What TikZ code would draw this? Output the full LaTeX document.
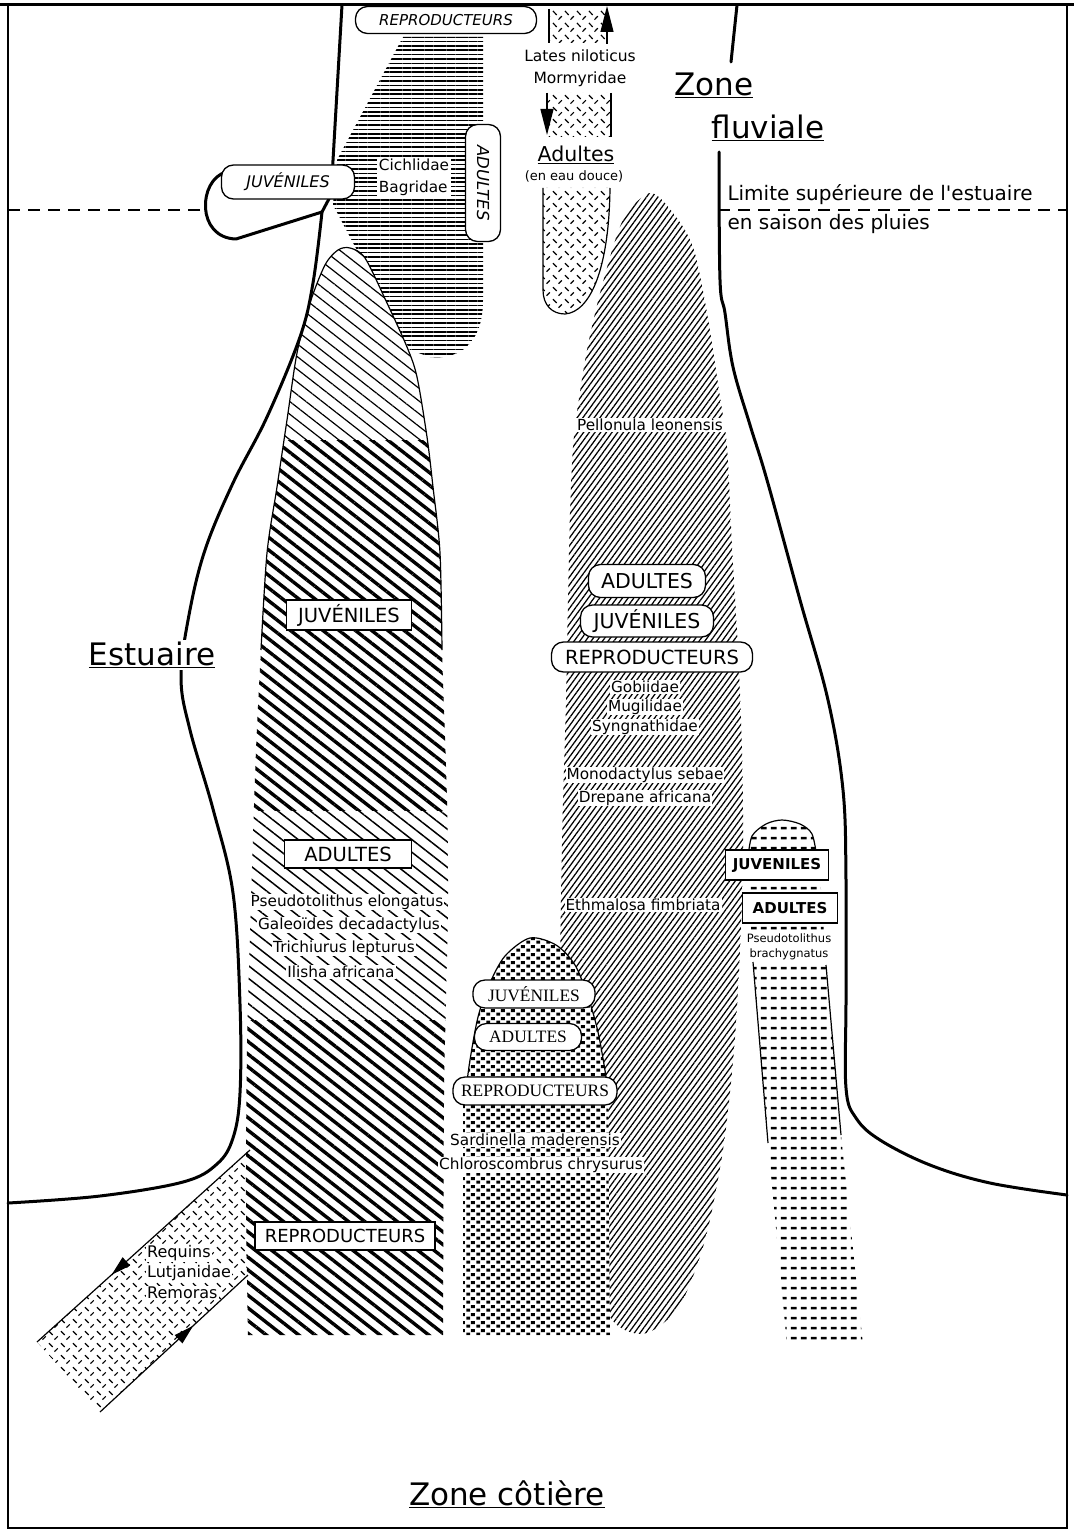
\documentclass[tikz,border=0pt]{standalone}
\usepackage{fontspec}
\setmainfont{DejaVu Sans}
\newfontfamily\timesfont{Liberation Serif}
\usetikzlibrary{patterns}
\usetikzlibrary{patterns.meta}
\usetikzlibrary{arrows.meta}
\usetikzlibrary{decorations.markings}

% fill patterns of the reference
\pgfdeclarepatternformonly{crossdash}{\pgfqpoint{0pt}{0pt}}{\pgfqpoint{12pt}{12pt}}{\pgfqpoint{12pt}{12pt}}{%
  \pgfsetlinewidth{1.3pt}%
  \pgfpathmoveto{\pgfqpoint{1pt}{10.5pt}}\pgfpathlineto{\pgfqpoint{5pt}{6.5pt}}%
  \pgfpathmoveto{\pgfqpoint{7pt}{1.5pt}}\pgfpathlineto{\pgfqpoint{10.5pt}{5pt}}%
  \pgfusepath{stroke}}
\pgfdeclarepatternformonly{brickdots}{\pgfqpoint{0pt}{0pt}}{\pgfqpoint{9.5pt}{7.6pt}}{\pgfqpoint{9.5pt}{7.6pt}}{%
  \pgfpathrectangle{\pgfqpoint{0.4pt}{0.4pt}}{\pgfqpoint{4pt}{3.1pt}}%
  \pgfpathrectangle{\pgfqpoint{5.2pt}{4.2pt}}{\pgfqpoint{4pt}{3.1pt}}%
  \pgfusepath{fill}}
\pgfdeclarepatternformonly{dashrows}{\pgfqpoint{0pt}{0pt}}{\pgfqpoint{10pt}{10pt}}{\pgfqpoint{10pt}{10pt}}{%
  \pgfpathrectangle{\pgfqpoint{1pt}{4pt}}{\pgfqpoint{6.2pt}{2.6pt}}%
  \pgfusepath{fill}}

\newcommand\straightapos{\XeTeXglyph\XeTeXcharglyph"27\relax}

\tikzset{
  bank/.style={line width=3pt, line cap=round, line join=round},
  thinline/.style={line width=1.2pt},
  pill/.style={draw, fill=white, line width=1.3pt, rounded corners=12pt, inner sep=0pt},
  labelbox/.style={draw, fill=white, line width=1.4pt, inner sep=0pt},
  species/.style={fill=white, inner sep=1pt, font=\fontsize{15.3}{23}\selectfont},
  zonename/.style={font=\fontsize{31}{36}\selectfont},
  migr/.style={-{Triangle[length=26pt,width=13pt]}, line width=1.3pt},
  midarrow/.style={postaction={decorate}, decoration={markings,
      mark=at position #1 with {\arrow{Triangle[length=20pt,width=11pt]}}}},
}

\def\juvpath{plot[smooth] coordinates {(248,1335) (246,1200) (247,1050) (251,900) (256,750) (261,650) (267,553) (277,487) (287,420) (297,353) (310,303) (325,265) (338,250) (350,248) (365,258) (387,303) (407,347) (417,377) (427,437) (433,487) (440,553) (442,650) (447,800) (448,900) (446,1000) (444,1100) (443,1335)} -- cycle}

\begin{document}
\begin{tikzpicture}[x=1pt, y=-1pt]
    \useasboundingbox (0,0) rectangle (1074,1533);

    % Cichlidae / Bagridae
    \fill[pattern={Lines[angle=0,distance=4.4pt,line width=1.7pt]}] (403,37) -- (483,37) -- (483,300)
        .. controls (483,345) and (458,360) .. (430,357) -- (410,350) -- (333,205) -- (337,160) -- cycle;

    % Pellonula leonensis
    \fill[pattern={Lines[angle=54,distance=4.6pt,line width=1.25pt]}] plot[smooth cycle] coordinates {(650,193) (673,213) (693,247) (707,313) (720,397) (727,447) (732,547) (738,650) (742,750) (743,850) (740,950) (734,1050) (723,1150) (705,1240) (680,1305) (647,1333) (617,1325) (592,1285) (574,1210) (563,1100) (560,1000) (561,900) (563,800) (566,700) (568,600) (570,513) (573,447) (578,405) (588,345) (603,282) (623,220)};

    % Requins band
    \coordinate (rqA) at (250,1150);
    \coordinate (rqB) at (37,1342);
    \coordinate (rqC) at (100,1412);
    \coordinate (rqD) at (248,1275);
    \fill[pattern=crossdash] (rqA) -- (rqB) -- (rqC) -- (rqD) -- cycle;

    % juveniles / adultes / reproducteurs (left)
    \fill[white] \juvpath;
    \begin{scope}
        \clip \juvpath;
        \fill[pattern={Lines[angle=-38,distance=10pt,line width=1.2pt]}] (200,240) rectangle (460,440);
        \fill[pattern={Lines[angle=-38,distance=10pt,line width=3.4pt]}] (200,440) rectangle (460,810);
        \fill[pattern={Lines[angle=-38,distance=10pt,line width=1.5pt]}] (200,810) rectangle (460,1020);
        \fill[pattern={Lines[angle=-38,distance=10pt,line width=3.4pt]}] (200,1020) rectangle (460,1340);
    \end{scope}
    \draw[thinline] plot[smooth] coordinates {(261,650) (267,553) (277,487) (287,420) (297,353) (310,303) (325,265) (338,250) (350,248) (365,258) (387,303) (407,347) (417,377) (427,437) (433,487) (440,553) (442,650)};

    % Sardinella
    \fill[pattern=brickdots, preaction={fill=white}] (463,1335) -- (463,1105) -- plot[smooth] coordinates {(466,1090) (470,1060) (478,1017) (489,985) (505,956) (530,938) (556,945) (575,965) (588,997) (598,1032) (606,1077) (608,1100)} -- (610,1335) -- cycle;
    \draw[thinline] plot[smooth] coordinates {(466,1090) (470,1060) (478,1017) (489,985) (505,956) (530,938) (556,945) (575,965) (588,997) (598,1032) (606,1077) (608,1100)};

    % Pseudotolithus brachygnatus
    \fill[pattern=dashrows] (787,1345) -- plot[smooth] coordinates {(768,1143) (753,962) (750,900) (748,858) (752,836) (766,824) (782,820) (800,824) (812,834) (817,858) (822,900) (826,965) (841,1135)} -- (863,1345) -- cycle;
    \draw[thinline] plot[smooth] coordinates {(748,858) (752,836) (766,824) (782,820) (800,824) (812,834) (817,858)};
    \draw[thinline] (753,962) -- (768,1143);
    \draw[thinline] (826,965) -- (841,1135);

    % Lates niloticus / Mormyridae
    \fill[pattern=crossdash] (549,9) rectangle (607,43);
    \fill[pattern=crossdash] (547,93) rectangle (611,137);
    \fill[pattern=crossdash, preaction={fill=white}] (543,188) -- (543,290) .. controls (543,305) and (552,314) .. (565,314)
        .. controls (590,312) and (609,270) .. (610,188) -- cycle;
    \draw[thinline] (549,9) -- (549,43);
    \draw[thinline] (611,93) -- (611,137);
    \draw[thinline] (543,188) -- (543,290) .. controls (543,305) and (552,314) .. (565,314)
        .. controls (590,312) and (609,270) .. (610,188);
    \coordinate (upA) at (607,44);
    \coordinate (upB) at (607,6);
    \coordinate (dnA) at (547,93);
    \coordinate (dnB) at (547,135);
    \draw[migr] (upA) -- (upB);
    \draw[migr] (dnA) -- (dnB);

    % sea migrants
    \draw[thinline, midarrow=0.65] (rqA) -- (rqB);
    \draw[thinline, midarrow=0.63] (rqC) -- (rqD);

    % frame
    \draw[line width=1.2pt] (8,5) rectangle (1067,1528);
    \draw[line width=3pt] (0,5) -- (1074,5);

    % banks
    \draw[bank] (342,5) -- (331,195) -- (322,212);
    \draw[bank] (226,172) .. controls (198,180) and (196,238) .. (236,239) -- (322,212);
    \draw[bank] plot[smooth, tension=0.6] coordinates {(322,212) (313,283) (300,337) (267,417) (233,483) (205,550) (189,615) (181,678) (190,730) (213,809) (233,893) (240,1004) (240,1093) (233,1138) (217,1164) (183,1182) (100,1196) (8,1203)};
    \draw[bank] (737,5) -- (731,62);
    \draw[bank] plot[smooth, tension=0.6] coordinates {(719,152) (720,280) (725,313) (733,367) (750,425) (767,480) (800,600) (828,700) (843,790) (846,880) (846,1000) (846,1088) (856,1118) (880,1140) (930,1165) (990,1183) (1067,1195)};

    % upper limit of the estuary
    \draw[line width=1.5pt, dash pattern=on 12pt off 8pt] (8,210) -- (203,210);
    \draw[line width=1.5pt, dash pattern=on 12pt off 8pt] (718,210) -- (1067,210);

    % labels, top
    \node[pill, minimum width=181pt, minimum height=27pt, font=\itshape\fontsize{15}{18}\selectfont] (reprotop) at (446,20) {REPRODUCTEURS};
    \node[pill, minimum width=133pt, minimum height=34pt, font=\itshape\fontsize{16}{18}\selectfont] (juvtop) at (288,182) {JUVÉNILES};
    \node[pill, rotate=-90, minimum width=117pt, minimum height=35pt, font=\itshape\fontsize{16.5}{18}\selectfont] (adtop) at (483,183) {ADULTES};
    \node[fill=white, align=left, inner sep=2pt, font=\fontsize{15.3}{22}\selectfont] (cichlid) at (414,177) {Cichlidae\\Bagridae};
    \node[align=center, font=\fontsize{15.5}{22}\selectfont] (lates) at (580,68) {Lates niloticus\\Mormyridae};
    \node[font=\fontsize{20.5}{24}\selectfont] (adfresh) at (576,155) {\underline{Adultes}};
    \node[font=\fontsize{13}{15}\selectfont] (douce) at (574,176) {(en eau douce)};
    \node[zonename] (zonefl) at (714,85) {\underline{Zone}};
    \node[zonename] (fluv) at (768,128) {\underline{fluviale}};
    \node[align=left, anchor=west, font=\fontsize{20}{29}\selectfont] (limite) at (724,209) {Limite supérieure de l\straightapos estuaire\\en saison des pluies};

    % labels, Pellonula
    \node[species, inner xsep=3pt] (pellon) at (650,425) {Pellonula leonensis};
    \node[pill, minimum width=117pt, minimum height=33pt, font=\fontsize{20.5}{24}\selectfont] (adpell) at (647,581) {ADULTES};
    \node[pill, minimum width=133pt, minimum height=32pt, font=\fontsize{20.5}{24}\selectfont] (juvpell) at (647,621) {JUVÉNILES};
    \node[pill, minimum width=201pt, minimum height=30pt, font=\fontsize{19.5}{24}\selectfont] (reppell) at (652,657) {REPRODUCTEURS};
    \node[species] (gobi) at (645,687) {Gobiidae};
    \node[species] (mugil) at (645,707) {Mugilidae};
    \node[species] (syngn) at (645,727) {Syngnathidae};
    \node[species] (monod) at (645,775) {Monodactylus sebae};
    \node[species] (drepa) at (645,798) {Drepane africana};
    \node[species] (ethma) at (643,905) {Ethmalosa fimbriata};

    % labels, left column
    \node[labelbox, minimum width=125pt, minimum height=30pt, font=\fontsize{19.5}{22}\selectfont] (juvjuv) at (349,615) {JUVÉNILES};
    \node[labelbox, minimum width=127pt, minimum height=28pt, font=\fontsize{19.5}{22}\selectfont] (adjuv) at (348,854) {ADULTES};
    \node[species] (elong) at (347,902) {Pseudotolithus elongatus};
    \node[species] (galeo) at (349,925) {Galeoïdes decadactylus};
    \node[species] (trichi) at (344,948) {Trichiurus lepturus};
    \node[species] (ilisha) at (341,972) {Ilisha africana};
    \node[labelbox, minimum width=180pt, minimum height=28pt, font=\fontsize{18}{22}\selectfont] (repjuv) at (345,1236) {REPRODUCTEURS};

    % labels, Sardinella
    \node[pill, minimum width=122pt, minimum height=28pt, font=\timesfont\fontsize{17.4}{20}\selectfont] (juvsard) at (534,994) {JUVÉNILES};
    \node[pill, minimum width=107pt, minimum height=27pt, font=\timesfont\fontsize{17.4}{20}\selectfont] (adsard) at (528,1037) {ADULTES};
    \node[pill, minimum width=164pt, minimum height=28pt, font=\timesfont\fontsize{17.4}{20}\selectfont] (repsard) at (535,1091) {REPRODUCTEURS};
    \node[species] (sardi) at (535,1140) {Sardinella maderensis};
    \node[species] (chloro) at (541,1165) {Chloroscombrus chrysurus};

    % labels, Pseudotolithus brachygnatus
    \node[labelbox, minimum width=103pt, minimum height=30pt, font=\bfseries\fontsize{15}{17}\selectfont] (juvbra) at (777,865) {JUVENILES};
    \node[labelbox, minimum width=95pt, minimum height=30pt, font=\bfseries\fontsize{15}{17}\selectfont] (adbra) at (790,908) {ADULTES};
    \node[species, align=center, font=\fontsize{11.5}{15}\selectfont] (pseudbr) at (789,947) {Pseudotolithus\\brachygnatus};

    % labels, sea migrants and zones
    \node[species, anchor=west, font=\fontsize{16}{20}\selectfont] (requin) at (146,1253) {Requins};
    \node[species, anchor=west, font=\fontsize{16}{20}\selectfont] (lutja) at (146,1273) {Lutjanidae};
    \node[species, anchor=west, font=\fontsize{16}{20}\selectfont] (remora) at (146,1293) {Remoras};
    \node[zonename, fill=white, inner sep=2pt] (estu) at (152,655) {\underline{Estuaire}};
    \node[zonename] (cotiere) at (507,1494) {\underline{Zone côtière}};
\end{tikzpicture}
\end{document}
